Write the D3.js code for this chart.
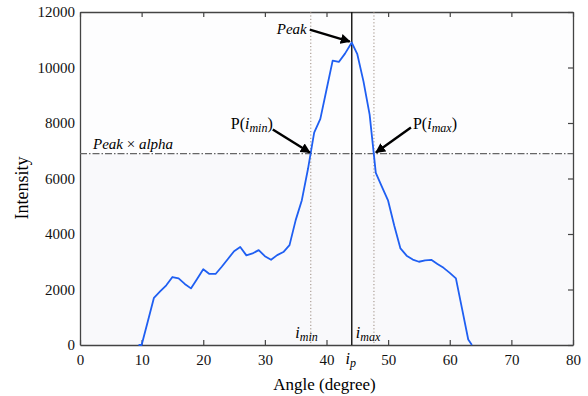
<!DOCTYPE html>
<html>
<head>
<meta charset="utf-8">
<script src="https://cdn.jsdelivr.net/npm/d3@7"></script>
<style>
  body { margin: 0; background: #fff; }
</style>
</head>
<body>
<div id="chart"></div>
<script>
// intensity profile
const angles = [9.5, 10, 11, 12, 13, 14, 15, 16, 17, 18, 19, 20, 21, 22, 23, 24, 25, 26, 27, 28, 29, 30,
    31, 32, 33, 34, 35, 36, 37, 38, 39, 40, 41, 42, 43, 44.1, 45, 46, 47, 48, 49, 50, 51, 52, 53, 54,
    55, 56, 57, 58, 59, 60, 61, 62, 63, 63.6];
const intensity = [0, 0, 850, 1700, 1930, 2150, 2450, 2400, 2200, 2040, 2380, 2730, 2560, 2560, 2820, 3100, 3380, 3530, 3230, 3300, 3420, 3200,
    3070, 3240, 3350, 3600, 4500, 5220, 6350, 7650, 8150, 9200, 10250, 10200, 10500, 10900, 10480, 9500, 8300, 6200, 5700, 5200, 4300, 3480, 3220, 3080,
    3000, 3050, 3070, 2920, 2780, 2600, 2400, 1300, 200, 0];

const xTicks = [0, 10, 20, 30, 40, 50, 60, 70, 80];
const yTicks = [0, 2000, 4000, 6000, 8000, 10000, 12000];

const peakAngle = 44.1, peakValue = 10900;
const alphaLevel = 6900;
const iMin = 37.45, iMax = 47.7;

const serif = "'Liberation Serif', 'DejaVu Serif', 'Times New Roman', serif";

const margin = { top: 12, right: 15, bottom: 51, left: 80 },
    width = 588 - margin.left - margin.right,
    height = 396 - margin.top - margin.bottom;

const root = d3.select("#chart")
    .append("svg")
    .attr("width", 588)
    .attr("height", 396);

const defs = root.append("defs");
defs.append("marker")
    .attr("id", "arrow")
    .attr("viewBox", "0 0 10 10")
    .attr("refX", 9)
    .attr("refY", 5)
    .attr("markerWidth", 4.2)
    .attr("markerHeight", 4.2)
    .attr("markerUnits", "strokeWidth")
    .attr("orient", "auto")
    .append("path")
    .attr("d", "M0,0 L10,5 L0,10 z")
    .attr("fill", "#000");

const svg = root.append("g")
    .attr("transform", "translate(" + margin.left + "," + margin.top + ")");

const x = d3.scaleLinear().domain([0, 80]).range([0, width]);
const y = d3.scaleLinear().domain([0, 12000]).range([height, 0]);

// faint plot background, a touch darker under the alpha level
svg.append("rect")
    .attr("width", width).attr("height", y(alphaLevel))
    .attr("fill", "#fdfdfe");
svg.append("rect")
    .attr("y", y(alphaLevel))
    .attr("width", width).attr("height", height - y(alphaLevel))
    .attr("fill", "#f9f9fb");

// axes
svg.append("g")
    .attr("transform", "translate(0," + height + ")")
    .call(d3.axisBottom(x).tickValues(xTicks).tickSize(-5).tickSizeOuter(0).tickPadding(9));

svg.append("g")
    .call(d3.axisLeft(y).tickValues(yTicks).tickFormat(d3.format("d")).tickSize(0).tickPadding(5));

svg.append("g")
    .call(d3.axisTop(x).tickValues(xTicks).tickSize(-5).tickSizeOuter(0).tickFormat(""));

svg.append("g")
    .attr("transform", "translate(" + width + ",0)")
    .call(d3.axisRight(y).tickValues(yTicks).tickSize(-5).tickSizeOuter(0).tickFormat(""));

svg.selectAll(".tick text").style("font-size", "15px").attr("fill", "#111");
svg.selectAll(".domain").attr("stroke", "#444").attr("stroke-width", 1.3);
svg.selectAll(".tick line").attr("stroke", "#444").attr("stroke-width", 1.2);

// i_min / i_max dotted markers
[iMin, iMax].forEach(v => {
    svg.append("line")
        .attr("x1", x(v)).attr("x2", x(v))
        .attr("y1", 0).attr("y2", height)
        .attr("stroke", "#9c8c80")
        .attr("stroke-width", 1)
        .attr("stroke-dasharray", "1.2,2.2");
});

// alpha level line
svg.append("line")
    .attr("x1", 0).attr("x2", width)
    .attr("y1", y(alphaLevel)).attr("y2", y(alphaLevel))
    .attr("stroke", "#666")
    .attr("stroke-width", 1.3)
    .attr("stroke-dasharray", "7,2,1.5,2");

// peak vertical
svg.append("line")
    .attr("x1", x(peakAngle)).attr("x2", x(peakAngle))
    .attr("y1", 0).attr("y2", height)
    .attr("stroke", "#111")
    .attr("stroke-width", 1.4);

// curve
const line = d3.line()
    .x((d, i) => x(angles[i]))
    .y(d => y(d));

svg.append("path")
    .datum(intensity)
    .attr("fill", "none")
    .attr("stroke", "#1f5ff2")
    .attr("stroke-width", 1.8)
    .attr("stroke-linejoin", "round")
    .attr("d", line);

// annotations
function arrow(tx, ty, dx, dy) {
    svg.append("line")
        .attr("x1", tx + dx).attr("y1", ty + dy)
        .attr("x2", tx).attr("y2", ty)
        .attr("stroke", "#000")
        .attr("stroke-width", 2.4)
        .attr("marker-end", "url(#arrow)");
}

const px = x(peakAngle), py = y(peakValue);
arrow(px - 2, py - 1, -40, -12);
svg.append("text")
    .attr("x", px - 45).attr("y", py - 9)
    .attr("text-anchor", "end")
    .style("font-size", "15px")
    .style("font-style", "italic")
    .text("Peak");

const ay = y(alphaLevel);
arrow(x(iMin) - 1, ay - 1, -37, -23);
arrow(x(iMax) + 2, ay - 1, 35, -25);

function pLabel(xp, yp, anchor, sub) {
    const t = svg.append("text")
        .attr("x", xp).attr("y", yp)
        .attr("text-anchor", anchor)
        .style("font-size", "16px");
    t.append("tspan").text("P(");
    t.append("tspan").style("font-style", "italic").text("i");
    t.append("tspan").attr("dy", 3).style("font-style", "italic").style("font-size", "12px").text(sub);
    t.append("tspan").attr("dy", -3).text(")");
}
pLabel(x(iMin) - 38, ay - 25, "end", "min");
pLabel(x(iMax) + 39, ay - 25, "start", "max");

const pa = svg.append("text")
    .attr("x", 13).attr("y", ay - 5)
    .style("font-size", "15px");
pa.append("tspan").style("font-style", "italic").text("Peak");
pa.append("tspan").text(" × ");
pa.append("tspan").style("font-style", "italic").text("alpha");

function iLabel(xp, yp, anchor, sub) {
    const t = svg.append("text")
        .attr("x", xp).attr("y", yp)
        .attr("text-anchor", anchor)
        .style("font-size", "16px");
    t.append("tspan").style("font-style", "italic").text("i");
    t.append("tspan").attr("dy", 3).style("font-style", "italic").style("font-size", "12px").text(sub);
}
iLabel(x(iMin) + 7, height - 7, "end", "min");
iLabel(x(peakAngle) + 4, height - 7, "start", "max");
iLabel(x(peakAngle) - 1, height + 19, "middle", "p");

// axis titles
svg.append("text")
    .attr("x", width / 2 - 2)
    .attr("y", height + 45)
    .attr("text-anchor", "middle")
    .style("font-size", "17px")
    .text("Angle (degree)");

svg.append("text")
    .attr("transform", "rotate(-90)")
    .attr("x", -188 + margin.top)
    .attr("y", -52)
    .attr("text-anchor", "middle")
    .style("font-size", "18px")
    .text("Intensity");

root.selectAll("text").style("font-family", serif);
root.selectAll("g").attr("font-family", null);
</script>
</body>
</html>
